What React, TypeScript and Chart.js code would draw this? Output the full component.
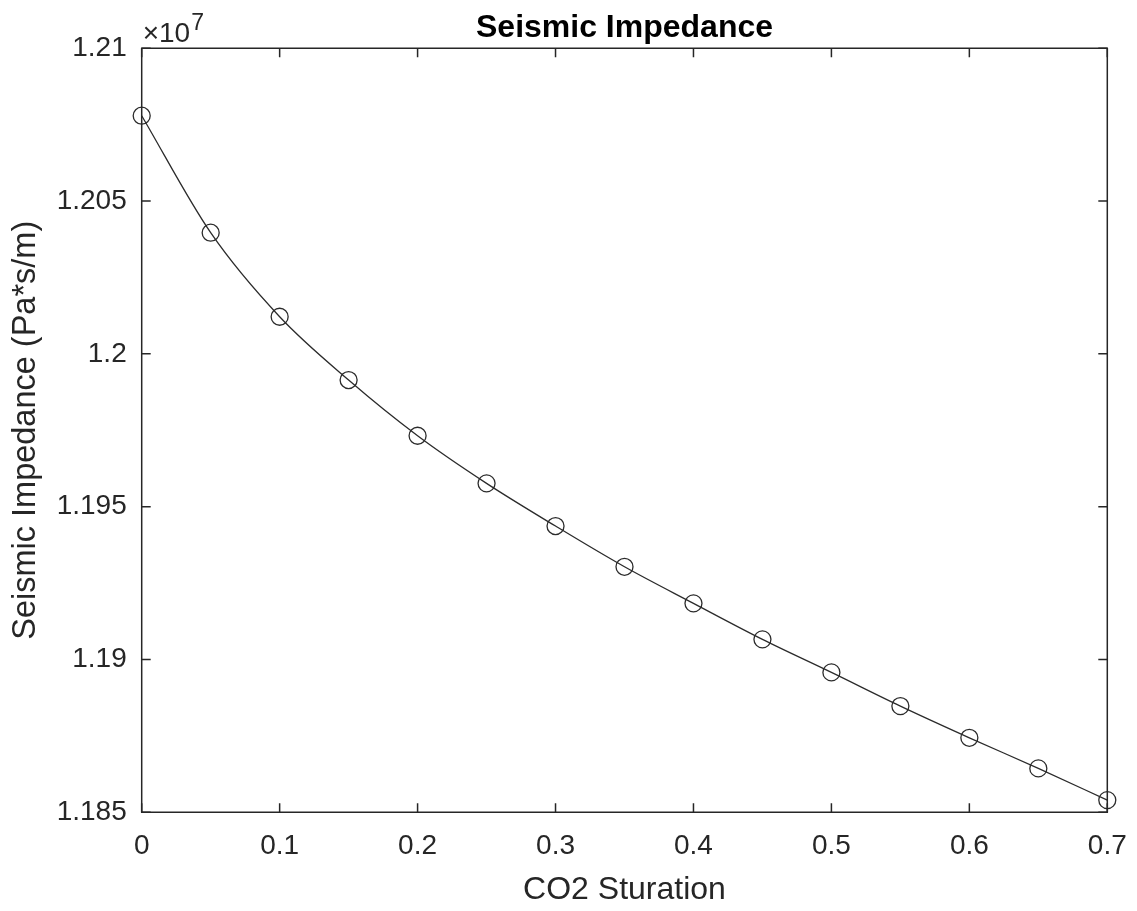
import React, { useEffect, useRef } from 'react';
import { Chart, registerables } from 'chart.js';

Chart.register(...registerables);

// CO2 saturation (fraction) and seismic impedance (Pa*s/m)
const saturation = [0, 0.05, 0.1, 0.15, 0.2, 0.25, 0.3, 0.35, 0.4, 0.45, 0.5, 0.55, 0.6, 0.65, 0.7];
const impedance = [
  12077910, 12039630, 12012140, 11991430, 11973200, 11957620, 11943650, 11930330,
  11918360, 11906580, 11895780, 11884750, 11874380, 11864370, 11853990,
];

const xTickValues = [0, 0.1, 0.2, 0.3, 0.4, 0.5, 0.6, 0.7];
const xTickLabels = ['0', '0.1', '0.2', '0.3', '0.4', '0.5', '0.6', '0.7'];
const yTickValues = [11850000, 11900000, 11950000, 12000000, 12050000, 12100000];
const yTickLabels = ['1.185', '1.19', '1.195', '1.2', '1.205', '1.21'];
const yExponent = '7';

const titleText = 'Seismic Impedance';
const xTitle = 'CO2 Sturation';
const yTitle = 'Seismic Impedance (Pa*s/m)';

const FONT = "'Liberation Sans', Arial, Helvetica, sans-serif";
const AXIS_COLOR = '#262626';

const W = 1137;
const H = 911;

// Box frame, inward ticks on all four sides, title and the axis exponent.
const framePlugin = {
  id: 'frame',
  afterDraw(chart: any) {
    const { ctx, chartArea: a, scales } = chart;
    const x = scales.x;
    const y = scales.y;
    const tick = 9;
    ctx.save();
    ctx.strokeStyle = AXIS_COLOR;
    ctx.lineWidth = 1.5;
    ctx.beginPath();
    ctx.rect(a.left, a.top, a.right - a.left, a.bottom - a.top);
    ctx.stroke();
    ctx.beginPath();
    xTickValues.forEach((v) => {
      const px = x.getPixelForValue(v);
      ctx.moveTo(px, a.bottom);
      ctx.lineTo(px, a.bottom - tick);
      ctx.moveTo(px, a.top);
      ctx.lineTo(px, a.top + tick);
    });
    yTickValues.forEach((v) => {
      const py = y.getPixelForValue(v);
      ctx.moveTo(a.left, py);
      ctx.lineTo(a.left + tick, py);
      ctx.moveTo(a.right, py);
      ctx.lineTo(a.right - tick, py);
    });
    ctx.stroke();

    // title
    ctx.fillStyle = '#000000';
    ctx.font = `bold 32px ${FONT}`;
    ctx.textAlign = 'center';
    ctx.textBaseline = 'alphabetic';
    ctx.fillText(titleText, (a.left + a.right) / 2, 37);

    // exponent label above the y axis
    ctx.fillStyle = AXIS_COLOR;
    ctx.textAlign = 'left';
    ctx.font = `28px ${FONT}`;
    const base = '\u00d710';
    ctx.fillText(base, a.left + 1, 41.5);
    const bw = ctx.measureText(base).width;
    ctx.font = `23px ${FONT}`;
    ctx.fillText(yExponent, a.left + 1 + bw + 1, 30);
    ctx.restore();
  },
};

export default function App() {
  const canvasRef = useRef<HTMLCanvasElement | null>(null);

  useEffect(() => {
    const canvas = canvasRef.current;
    if (!canvas) return;
    const chart = new Chart(canvas, {
      type: 'line',
      data: {
        datasets: [
          {
            data: saturation.map((s, i) => ({ x: s, y: impedance[i] })),
            borderColor: '#2b2b2b',
            borderWidth: 1.3,
            cubicInterpolationMode: 'monotone',
            pointStyle: 'circle',
            pointRadius: 8.5,
            pointBorderWidth: 1.3,
            pointBorderColor: '#2b2b2b',
            pointBackgroundColor: 'rgba(0,0,0,0)',
            fill: false,
            clip: false as any,
          },
        ],
      },
      options: {
        responsive: false,
        animation: false,
        devicePixelRatio: 1,
        layout: { padding: { top: 48.2, left: 0, right: 29.7, bottom: 0 } },
        plugins: {
          legend: { display: false },
          title: { display: false },
          tooltip: { enabled: false },
        },
        scales: {
          x: {
            type: 'linear',
            position: 'bottom',
            min: 0,
            max: 0.7,
            afterBuildTicks: (scale: any) => {
              scale.ticks = xTickValues.map((v) => ({ value: v }));
            },
            afterFit: (scale: any) => {
              scale.height = H - 812.3;
            },
            // invisible tick marks only set the label offset below the axis
            grid: {
              display: true,
              drawOnChartArea: false,
              drawTicks: true,
              tickLength: 17,
              tickColor: 'rgba(0,0,0,0)',
            },
            border: { display: false },
            ticks: {
              color: AXIS_COLOR,
              font: { family: FONT, size: 28 },
              padding: 0,
              maxRotation: 0,
              autoSkip: false,
              callback: (_v: any, i: number) => xTickLabels[i],
            },
            title: {
              display: true,
              text: xTitle,
              color: AXIS_COLOR,
              font: { family: FONT, size: 32, lineHeight: 1.2 },
              padding: { top: 0, bottom: 1.5 },
            },
          },
          y: {
            type: 'linear',
            position: 'left',
            min: 11850000,
            max: 12100000,
            afterBuildTicks: (scale: any) => {
              scale.ticks = yTickValues.map((v) => ({ value: v }));
            },
            afterFit: (scale: any) => {
              scale.width = 141.7;
            },
            grid: { display: false, drawTicks: false, tickLength: 0 },
            border: { display: false },
            ticks: {
              color: AXIS_COLOR,
              font: { family: FONT, size: 28 },
              padding: 15,
              autoSkip: false,
              callback: (_v: any, i: number) => yTickLabels[i],
            },
            title: {
              display: true,
              text: yTitle,
              color: AXIS_COLOR,
              font: { family: FONT, size: 32.5, lineHeight: 1.2 },
              padding: { top: 7, bottom: 0 },
            },
          },
        },
      },
      plugins: [framePlugin],
    });
    return () => chart.destroy();
  }, []);

  return (
    <div style={{ position: 'absolute', left: 0, top: 0, width: W, height: H, background: '#ffffff' }}>
      <canvas ref={canvasRef} width={W} height={H} style={{ width: W, height: H, display: 'block' }} />
    </div>
  );
}
